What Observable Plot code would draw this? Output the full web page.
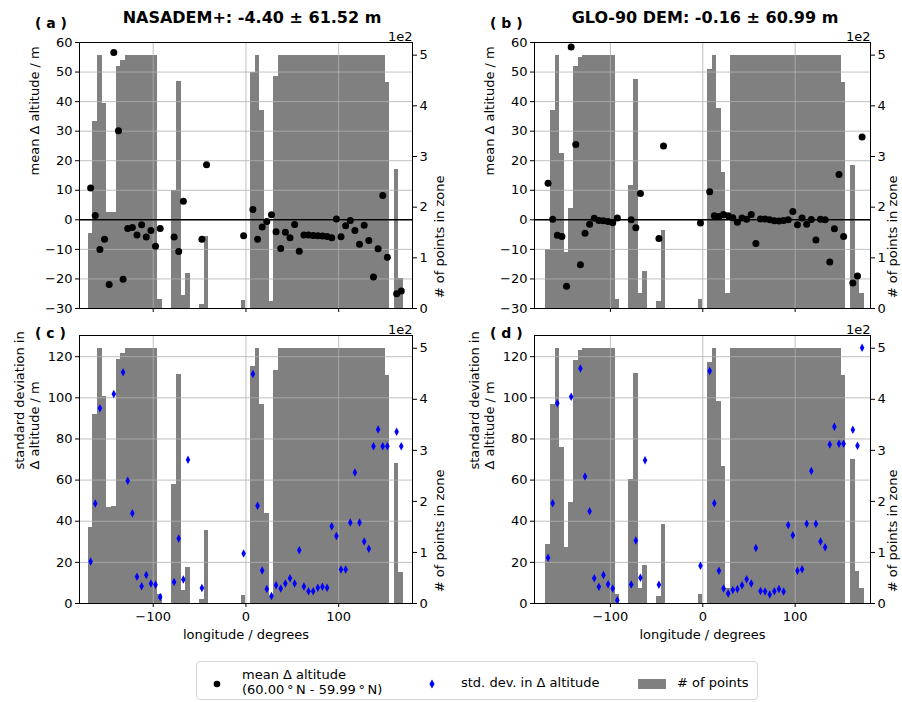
<!DOCTYPE html>
<html><head><meta charset="utf-8">
<script src="https://cdn.jsdelivr.net/npm/d3@7"></script>
<script src="https://cdn.jsdelivr.net/npm/@observablehq/plot@0.6"></script>
<style>
body{margin:0;background:#fff;font-family:"DejaVu Sans",sans-serif;}
#fig{position:relative;width:902px;height:702px;overflow:hidden;background:#fff;}
.abs{position:absolute;white-space:nowrap;}
.ttl{font-weight:bold;font-size:16px;}
.let{font-weight:bold;font-size:14px;}
#legend{position:absolute;left:196px;top:661px;width:562px;height:39px;border:1px solid #d6d6d6;border-radius:4px;box-sizing:border-box;font-size:13px;}
</style></head><body><div id="fig"></div>
<script>
// longitude zones (left edge of each 5-degree bin)
const lonStart = [-170,-165,-160,-155,-150,-145,-140,-135,-130,-125,-120,-115,-110,-105,-100,-95,-90,-85,-80,-75,-70,-65,-60,-55,-50,-45,-40,-35,-30,-25,-20,-15,-10,-5,0,5,10,15,20,25,30,35,40,45,50,55,60,65,70,75,80,85,90,95,100,105,110,115,120,125,130,135,140,145,150,155,160,165,170];
// number of points in zone
const countNASADEM = [149,370,500,405,189,190,478,490,500,500,500,500,500,500,500,18,0,0,233,449,25,70,0,0,7,143,0,0,0,0,0,0,0,15,0,465,500,390,176,13,457,500,500,500,500,500,500,500,500,500,500,500,500,500,500,500,500,500,500,500,500,500,500,500,446,0,275,60,0];
const countGLO90 = [116,390,500,306,110,197,477,496,500,500,500,500,500,500,500,18,0,0,242,451,30,74,0,0,14,154,0,0,0,0,0,0,0,18,0,472,500,395,269,30,500,500,500,500,500,500,500,500,500,500,500,500,500,500,500,500,500,500,500,500,500,500,500,500,446,0,282,62,29];
// mean delta altitude (m)
const meanNASADEM = [10.8,1.5,-10.0,-6.6,-21.9,56.6,30.1,-20.1,-2.9,-2.6,-5.1,-1.7,-5.8,-3.6,-8.9,-2.9,null,null,-5.8,-10.7,6.3,null,null,null,-6.6,18.6,null,null,null,null,null,null,null,-5.4,null,3.5,-6.6,-2.4,-0.6,1.7,-4.0,-9.7,-4.2,-6.1,-1.6,-10.6,-5.1,-5.1,-5.3,-5.4,-5.5,-5.6,-6.1,0.3,-5.7,-2.0,-0.2,-3.6,-8.3,-1.8,-7.0,-19.3,-9.8,8.2,-12.7,null,-25.0,-24.1,null];
const meanGLO90 = [12.4,0.2,-5.2,-5.6,-22.5,58.5,25.5,-15.2,-4.5,-1.5,0.5,-0.2,-0.3,-0.6,-1.0,0.6,null,null,0.0,-2.7,8.9,null,null,null,-6.3,25.0,null,null,null,null,null,null,null,-1.1,null,9.5,1.4,1.1,1.8,1.4,0.7,-0.8,0.6,0.2,1.8,-8.0,0.3,0.3,0.0,-0.3,-0.4,-0.2,0.0,2.8,-1.7,0.6,-1.5,0.1,-6.8,0.2,0.0,-14.3,-3.0,15.3,-5.6,null,-21.4,-19.0,28.0];
// std. dev. of delta altitude (m)
const stdNASADEM = [20.4,48.6,94.9,null,null,101.8,null,112.4,59.7,43.9,13.0,8.4,13.8,9.7,9.1,3.2,null,null,10.5,31.6,11.7,69.9,null,null,7.5,null,null,null,null,null,null,null,null,24.3,null,111.6,47.5,16.1,7.0,3.7,8.9,7.3,9.7,12.3,9.7,25.9,8.3,6.0,6.0,7.6,8.1,7.6,37.5,32.8,16.5,16.5,39.4,63.7,39.4,30.2,26.6,76.5,84.6,76.5,76.5,null,83.5,76.5,null];
const stdGLO90 = [22.3,48.7,97.4,null,null,100.5,null,114.2,61.7,44.8,12.3,8.1,13.8,9.4,7.3,1.6,null,null,9.2,30.6,12.5,69.7,null,null,9.1,null,null,null,null,null,null,null,null,18.3,null,113.1,48.7,15.9,7.3,4.9,6.6,7.1,8.9,11.8,9.7,27.0,6.1,5.8,4.4,6.0,7.0,5.8,38.2,33.2,15.9,16.7,38.8,64.4,38.8,30.1,27.3,77.3,85.9,77.7,77.7,null,84.5,76.7,124.3];
// tick labels
const lonTicks = [-100, 0, 100];
const meanTicks = [-30,-20,-10,0,10,20,30,40,50,60];
const stdTicks = [0,20,40,60,80,100,120];
const countTicks = [0,1,2,3,4,5]; // x 1e2
const titles = ["NASADEM+: -4.40 \u00b1 61.52 m", "GLO-90 DEM: -0.16 \u00b1 60.99 m"];
const letters = ["( a )", "( b )", "( c )", "( d )"];

const thinDiamond = {draw(ctx, size){const r=Math.sqrt(size/Math.PI);ctx.moveTo(0,-r*1.15);ctx.lineTo(r*0.62,0);ctx.lineTo(0,r*1.15);ctx.lineTo(-r*0.62,0);ctx.closePath();}};

const fig = document.getElementById("fig");
const COUNTMAX = 525;

function panel(o){
  const k = (o.ydom[1]-o.ydom[0])/COUNTMAX;
  const bars = lonStart.map((lon,i)=>({lon, n:o.counts[i]})).filter(d=>d.n>0);
  const pts = lonStart.map((lon,i)=>({lon, v:o.vals[i]})).filter(d=>d.v!=null);
  const rpos = countTicks.map(c=>o.ydom[0]+c*100*k);
  const grid = {stroke:"#b0b0b0", strokeOpacity:1, strokeWidth:0.8};
  const marks = [
    Plot.rect(bars, {x1:"lon", x2:d=>d.lon+5, y1:()=>o.ydom[0], y2:d=>o.ydom[0]+d.n*k, fill:"#808080", shapeRendering:"crispEdges", clip:true}),
    Plot.gridY(o.yticks, grid),
    Plot.gridX(lonTicks, grid),
    o.zero ? Plot.ruleY([0], {stroke:"black", strokeWidth:1.5}) : null,
    o.kind==="mean"
      ? Plot.dot(pts, {x:d=>d.lon+2.5, y:"v", r:3.5, fill:"black", stroke:null, clip:true})
      : Plot.dot(pts, {x:d=>d.lon+2.5, y:"v", r:3.7, symbol:thinDiamond, fill:"#0000ff", stroke:null, clip:true}),
    Plot.frame({stroke:"black", strokeWidth:1}),
    Plot.axisY(o.yticks, {anchor:"left", tickSize:4, tickPadding:3, label:null}),
    Plot.axisY(rpos, {anchor:"right", tickSize:4, tickPadding:3, label:null, tickFormat:v=>String(Math.round((v-o.ydom[0])/k/100))}),
    Plot.axisX(lonTicks, {anchor:"bottom", tickSize:4, tickPadding:4, label:null, tickFormat: o.xlabels ? d3.format("d") : ()=>""}),
    Plot.text([o.ylabel], {frameAnchor:"left", rotate:-90, dx:o.ydx, lineHeight:1.2}),
    Plot.text(["# of points in zone"], {frameAnchor:"right", rotate:-90, dx:o.rdx}),
    Plot.text(["1e2"], {frameAnchor:"top-right", textAnchor:"end", lineAnchor:"bottom", dy:-2}),
    o.xlabels ? Plot.text(["longitude / degrees"], {frameAnchor:"bottom", lineAnchor:"middle", dy:31}) : null
  ].filter(Boolean);
  const svg = Plot.plot({
    width:o.W, height:o.H, marginLeft:o.ml, marginRight:o.mr, marginTop:o.mt, marginBottom:o.mb,
    x:{domain:o.xdom}, y:{domain:o.ydom},
    style:{fontFamily:"DejaVu Sans", fontSize:"13px", color:"black", background:"transparent", overflow:"visible"},
    marks
  });
  svg.style.position="absolute"; svg.style.left=o.left+"px"; svg.style.top=o.top+"px";
  fig.appendChild(svg);
}

const colL = {left:0, W:451, ml:79, mr:39, xdom:[-179.5,179.6], rdx:27};
const colR = {left:451, W:451, ml:83, mr:32, xdom:[-182.2,181.6], rdx:22};
const rowT = {top:0, H:320, mt:42, mb:12, ydom:[-30,60], yticks:meanTicks, kind:"mean", zero:true, xlabels:false, ylabel:"mean \u0394 altitude / m", ydx:-46};
const rowB = {top:320, H:382, mt:15, mb:99, ydom:[0,130.3], yticks:stdTicks, kind:"std", zero:false, xlabels:true, ylabel:"standard deviation in\n\u0394 altitude / m", ydx:-53};

panel({...colL, ...rowT, counts:countNASADEM, vals:meanNASADEM});
panel({...colR, ...rowT, counts:countGLO90, vals:meanGLO90});
panel({...colL, ...rowB, counts:countNASADEM, vals:stdNASADEM});
panel({...colR, ...rowB, counts:countGLO90, vals:stdGLO90});

function addText(txt, cls, x, y, anchor){
  const d=document.createElement("div"); d.className="abs "+cls; d.textContent=txt;
  d.style.left=x+"px"; d.style.top=y+"px";
  d.style.transform = anchor==="center" ? "translate(-50%,-50%)" : "translate(0,-50%)";
  fig.appendChild(d);
}
addText(titles[0], "ttl", 252, 17, "center");
addText(titles[1], "ttl", 705, 17, "center");
addText(letters[0], "let", 35, 23, "left");
addText(letters[1], "let", 490, 23, "left");
addText(letters[2], "let", 35, 333, "left");
addText(letters[3], "let", 490, 333, "left");

// legend
const lg=document.createElement("div"); lg.id="legend";
lg.innerHTML = `
<svg style="position:absolute;left:0;top:0" width="562" height="40">
 <circle cx="20" cy="22" r="3.3" fill="black"/>
 <path d="M235,17.5 L237.6,22 L235,26.5 L232.4,22 Z" fill="#0000ff"/>
 <rect x="441" y="17" width="28" height="10" fill="#808080"/>
</svg>
<div class="abs" style="left:45px;top:5px;line-height:15px">mean \u0394 altitude<br>(60.00\u2009\u00b0\u2009N - 59.99\u2009\u00b0\u2009N)</div>
<div class="abs" style="left:264px;top:13px;line-height:15px">std. dev. in \u0394 altitude</div>
<div class="abs" style="left:480px;top:13px;line-height:15px"># of points</div>`;
fig.appendChild(lg);
</script></body></html>
